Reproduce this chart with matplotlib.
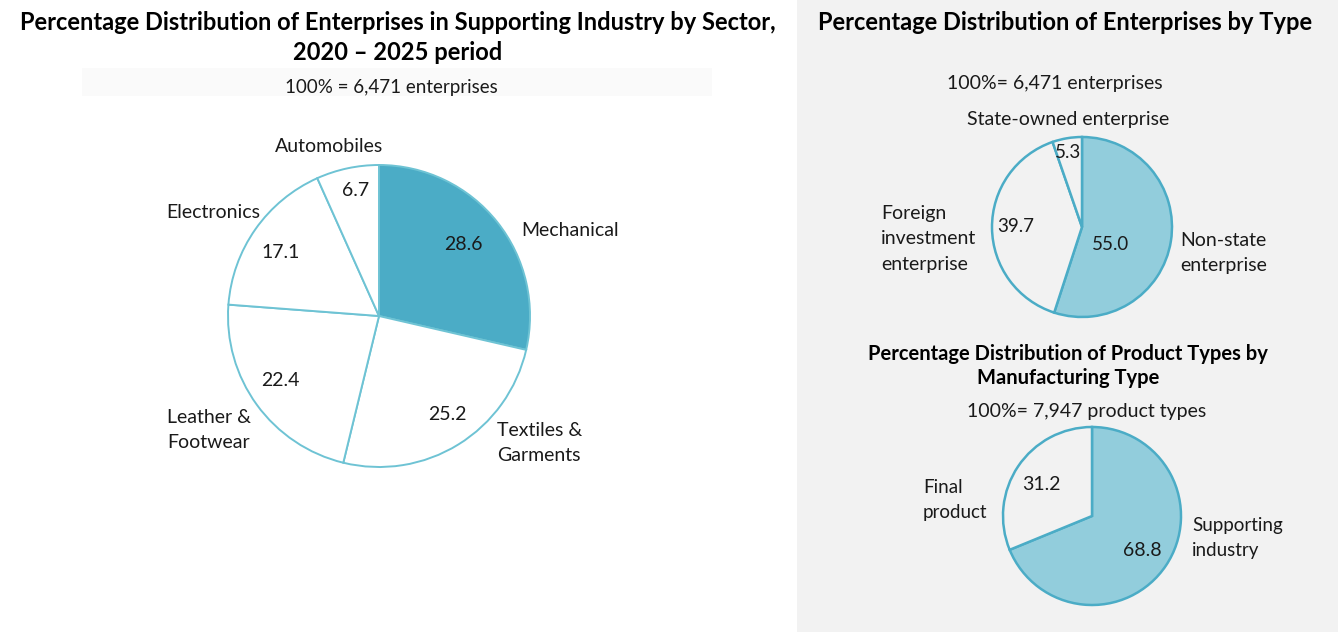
import matplotlib.pyplot as plt
from matplotlib.patches import Rectangle

plt.rcParams['font.family'] = ['Lato', 'DejaVu Sans']

W, H = 1338, 640

# --- data ---
sector_names = ['Mechanical', 'Textiles &\nGarments', 'Leather &\nFootwear', 'Electronics', 'Automobiles']
sector_values = [28.6, 25.2, 22.4, 17.1, 6.7]

type_names = ['Non-state\nenterprise', 'Foreign\ninvestment\nenterprise', 'State-owned enterprise']
type_values = [55.0, 39.7, 5.3]

product_names = ['Supporting\nindustry', 'Final\nproduct']
product_values = [68.8, 31.2]

# pixel layout for labels (x, y from top)
sector_val_pos = [(463, 244), (447, 415), (280, 381), (281, 253), (356, 190)]
sector_name_pos = [(521, 231, 'left'), (497, 443, 'left'), (167, 430, 'left'), (213, 212, 'center'), (329, 146, 'center')]
type_val_pos = [(1111, 244), (1016, 227), (1068, 152)]
type_name_pos = [(1180, 253, 'left'), (881, 239, 'left'), (1068, 120, 'center')]
product_val_pos = [(1142, 550), (1041, 484)]
product_name_pos = [(1192, 538, 'left'), (923, 500, 'left')]

fig = plt.figure(figsize=(W / 100, H / 100), dpi=100)
fig.patch.set_facecolor('white')


def px(x, y):
    return x / W, 1 - y / H


def txt(x, y, s, **kw):
    kw.setdefault('ha', 'center')
    kw.setdefault('va', 'center')
    kw.setdefault('fontsize', 13.5)
    kw.setdefault('color', '#1a1a1a')
    fig.text(*px(x, y), s, linespacing=1.6, **kw)


def pie_axes(cx, cy, r):
    ax = fig.add_axes([(cx - r) / W, (H - cy - r) / H, 2 * r / W, 2 * r / H])
    ax.axis('off')
    return ax


def fix_limits(ax):
    ax.set_xlim(-1, 1)
    ax.set_ylim(-1, 1)


# background panel on right and faint band on left
fig.add_artist(Rectangle(px(797, 632), (W - 797) / W, 632 / H, transform=fig.transFigure,
                         facecolor='#F2F2F2', edgecolor='none', zorder=0))
fig.add_artist(Rectangle(px(82, 96), (712 - 82) / W, 28 / H, transform=fig.transFigure,
                         facecolor='#FAFAFA', edgecolor='none', zorder=0))

# left pie
ax1 = pie_axes(379, 316, 151)
ax1.pie(sector_values, startangle=90, counterclock=False, radius=1,
        colors=['#4BACC6'] + ['white'] * 4,
        wedgeprops=dict(edgecolor='#6EC3D4', linewidth=1.4))
fix_limits(ax1)
txt(398, 22, 'Percentage Distribution of Enterprises in Supporting Industry by Sector,', fontsize=17, fontweight='bold', color='black')
txt(398, 52, '2020 – 2025 period', fontsize=17, fontweight='bold', color='black')
txt(391, 87, '100% = 6,471 enterprises', fontsize=13.5)
for v, (x, y) in zip(sector_values, sector_val_pos):
    txt(x, y, f'{v:.1f}', fontsize=14)
for n, (x, y, ha) in zip(sector_names, sector_name_pos):
    txt(x, y, n, ha=ha, fontsize=14)

# right top pie
ax2 = pie_axes(1082, 227, 90)
ax2.pie(type_values, startangle=90, counterclock=False, radius=1,
        colors=['#92CDDC', '#F2F2F2', '#F2F2F2'],
        wedgeprops=dict(edgecolor='#4BACC6', linewidth=1.8))
fix_limits(ax2)
txt(1065, 22, 'Percentage Distribution of Enterprises by Type', fontsize=17, fontweight='bold', color='black')
txt(1055, 83, '100%= 6,471 enterprises', fontsize=14)
for v, (x, y) in zip(type_values, type_val_pos):
    txt(x, y, f'{v:.1f}', fontsize=13.5)
for n, (x, y, ha) in zip(type_names, type_name_pos):
    txt(x, y, n, ha=ha, fontsize=14)

# right bottom pie
ax3 = pie_axes(1092, 516, 89)
ax3.pie(product_values, startangle=90, counterclock=False, radius=1,
        colors=['#92CDDC', '#F2F2F2'],
        wedgeprops=dict(edgecolor='#4BACC6', linewidth=1.8))
fix_limits(ax3)
txt(1068, 354, 'Percentage Distribution of Product Types by', fontsize=14.5, fontweight='bold', color='black')
txt(1068, 378, 'Manufacturing Type', fontsize=14.5, fontweight='bold', color='black')
txt(1087, 411, '100%= 7,947 product types', fontsize=14)
for v, (x, y) in zip(product_values, product_val_pos):
    txt(x, y, f'{v:.1f}', fontsize=14)
for n, (x, y, ha) in zip(product_names, product_name_pos):
    txt(x, y, n, ha=ha, fontsize=13.5)

fig.savefig('out.png', dpi=100)
